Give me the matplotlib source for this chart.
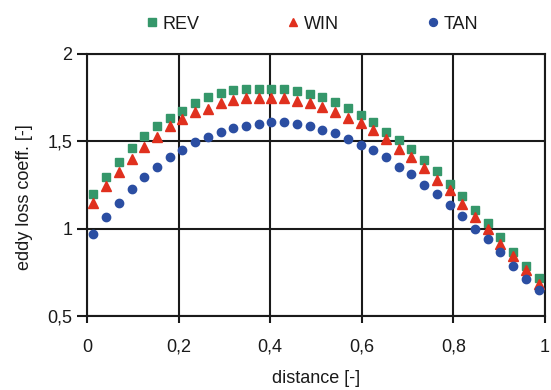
import matplotlib
matplotlib.use("Agg")
import matplotlib.pyplot as plt

plt.rcParams['font.family'] = ['Liberation Sans', 'DejaVu Sans']

n_points = 36
distance = [(i + 0.5) / n_points for i in range(n_points)]

rev = [1.20, 1.295, 1.379, 1.459, 1.531, 1.585, 1.632, 1.676, 1.718, 1.755,
       1.775, 1.794, 1.800, 1.800, 1.800, 1.800, 1.785, 1.771, 1.751, 1.722,
       1.690, 1.651, 1.608, 1.556, 1.509, 1.455, 1.394, 1.330, 1.257, 1.185,
       1.109, 1.036, 0.952, 0.870, 0.785, 0.718]
win = [1.147, 1.242, 1.326, 1.398, 1.470, 1.527, 1.585, 1.627, 1.669, 1.684,
       1.718, 1.737, 1.749, 1.749, 1.749, 1.749, 1.728, 1.718, 1.695, 1.665,
       1.632, 1.604, 1.562, 1.512, 1.457, 1.408, 1.345, 1.280, 1.219, 1.143,
       1.070, 0.998, 0.914, 0.842, 0.762, 0.686]
tan = [0.971, 1.065, 1.147, 1.227, 1.295, 1.356, 1.410, 1.451, 1.495, 1.524,
       1.556, 1.575, 1.589, 1.598, 1.608, 1.608, 1.598, 1.589, 1.562, 1.547,
       1.512, 1.480, 1.451, 1.410, 1.356, 1.314, 1.251, 1.200, 1.137, 1.074,
       1.000, 0.941, 0.867, 0.789, 0.713, 0.648]

xticks = [0, 0.2, 0.4, 0.6, 0.8, 1.0]
xticklabels = ["0", "0,2", "0,4", "0,6", "0,8", "1"]
yticks = [0.5, 1.0, 1.5, 2.0]
yticklabels = ["0,5", "1", "1,5", "2"]

TXT = '#1a1a1a'
FS = 13

fig = plt.figure(figsize=(5.51, 3.90), dpi=100)
ax = fig.add_axes([0.158, 0.189, 0.831, 0.673])

ax.plot(distance, rev, linestyle='none', marker='s', markersize=6, color='#35976a',
        label='REV', clip_on=False, zorder=3)
ax.plot(distance, win, linestyle='none', marker='^', markersize=6.5, color='#e0301e',
        label='WIN', clip_on=False, zorder=4)
ax.plot(distance, tan, linestyle='none', marker='o', markersize=6, color='#2b4ea2',
        label='TAN', clip_on=False, zorder=5)

ax.set_xlim(0, 1)
ax.set_ylim(0.5, 2)
ax.set_xticks(xticks)
ax.set_xticklabels(xticklabels)
ax.set_yticks(yticks)
ax.set_yticklabels(yticklabels)
ax.grid(True, color=TXT, linewidth=1.5)
ax.set_axisbelow(True)
for s in ax.spines.values():
    s.set_linewidth(1.5)
    s.set_color(TXT)
ax.tick_params(axis='x', direction='out', length=5, width=1.5, labelsize=FS, pad=11,
               colors=TXT)
ax.tick_params(axis='y', direction='out', length=7, width=1.5, labelsize=FS, pad=3.5,
               colors=TXT)
ax.set_xlabel('distance [-]', fontsize=FS, labelpad=10.5, color=TXT)
ax.set_ylabel('eddy loss coeff. [-]', fontsize=FS, color=TXT)
ax.yaxis.set_label_coords(-0.118, 0.455)

leg = fig.legend(loc='center', bbox_to_anchor=(0.567, 0.938), ncol=3, frameon=False,
                 fontsize=FS, handletextpad=0.3, columnspacing=4.9, handlelength=0.6,
                 markerscale=0.95)
for t in leg.get_texts():
    t.set_color(TXT)

fig.savefig('out.png', dpi=100)
